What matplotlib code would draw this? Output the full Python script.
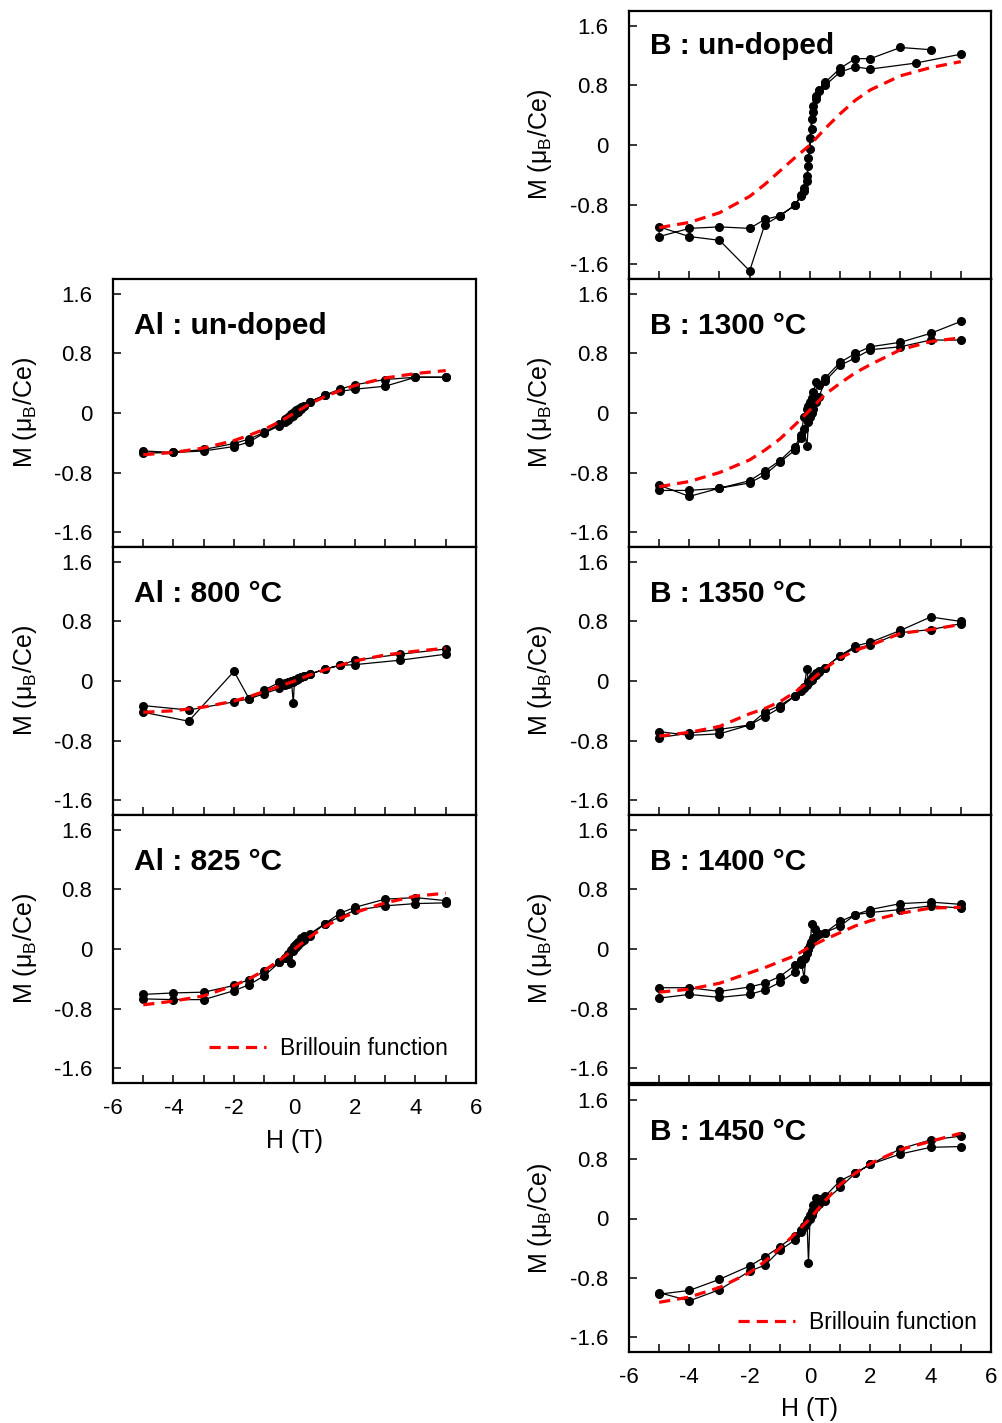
import matplotlib
matplotlib.use("Agg")
import matplotlib.pyplot as plt

plt.rcParams['font.family'] = ['Liberation Sans', 'DejaVu Sans']
plt.rcParams['mathtext.default'] = 'regular'

# field grids (T)
H_DOWN = [5, 4, 3, 2, 1.5, 1, 0.5, 0.3, 0.2, 0.1, 0.05, 0, -0.05, -0.1, -0.2, -0.3, -0.5, -1, -1.5, -2, -3, -4, -5]
H_UP = H_DOWN[::-1]
BR_H = [-5, -4, -3, -2, -1.5, -1, -0.5, 0, 0.5, 1, 1.5, 2, 3, 4, 5]

# Al : un-doped
AL0_M_DOWN = [0.48, 0.48, 0.45, 0.38, 0.32, 0.24, 0.15, 0.10, 0.08, 0.06, 0.04, 0.02, 0.0, -0.02, -0.05, -0.08, -0.15, -0.26, -0.35, -0.41, -0.49, -0.53, -0.51]
AL0_M_UP = [-0.54, -0.53, -0.51, -0.45, -0.39, -0.27, -0.17, -0.12, -0.09, -0.06, -0.04, -0.02, 0.0, 0.02, 0.05, 0.09, 0.15, 0.24, 0.29, 0.32, 0.36, 0.48, 0.48]
AL0_BR = [-0.56, -0.53, -0.47, -0.37, -0.30, -0.22, -0.12, 0.0, 0.12, 0.22, 0.30, 0.37, 0.47, 0.53, 0.57]

# Al : 800 C
AL800_H_DOWN = [5, 3.5, 2, 1.5, 1, 0.5, 0.3, 0.2, 0.1, 0.05, 0, -0.04, -0.1, -0.2, -0.3, -0.5, -1, -1.5, -2, -3.5, -5]
AL800_M_DOWN = [0.43, 0.36, 0.28, 0.21, 0.16, 0.09, 0.07, 0.05, 0.04, 0.02, 0.01, -0.30, 0.0, -0.02, -0.03, -0.02, -0.12, -0.24, -0.28, -0.39, -0.33]
AL800_H_UP = [-5, -3.5, -2, -1.5, -1, -0.5, -0.3, -0.2, -0.1, -0.05, 0, 0.05, 0.1, 0.2, 0.3, 0.5, 1, 1.5, 2, 3.5, 5]
AL800_M_UP = [-0.42, -0.54, 0.13, -0.24, -0.17, -0.10, -0.06, -0.04, -0.02, -0.01, 0.0, 0.02, 0.03, 0.05, 0.07, 0.09, 0.16, 0.21, 0.22, 0.28, 0.36]
AL800_BR = [-0.42, -0.40, -0.35, -0.27, -0.21, -0.14, -0.07, 0.0, 0.08, 0.15, 0.21, 0.27, 0.35, 0.40, 0.44]

# Al : 825 C
AL825_M_DOWN = [0.62, 0.61, 0.58, 0.52, 0.43, 0.34, 0.17, 0.12, 0.09, 0.05, 0.03, 0.0, -0.03, -0.19, -0.08, -0.12, -0.18, -0.36, -0.48, -0.56, -0.68, -0.68, -0.67]
AL825_M_UP = [-0.61, -0.59, -0.58, -0.49, -0.41, -0.30, -0.18, -0.12, -0.07, -0.02, 0.01, 0.04, 0.07, 0.10, 0.15, 0.18, 0.20, 0.34, 0.48, 0.56, 0.67, 0.69, 0.65]
AL825_BR = [-0.75, -0.70, -0.63, -0.49, -0.40, -0.29, -0.15, 0.0, 0.16, 0.30, 0.41, 0.49, 0.62, 0.71, 0.75]

# B : un-doped
B0_H_DOWN = [5, 3.5, 2, 1.5, 1, 0.5, 0.3, 0.2, 0.1, 0.05, 0, -0.05, -0.1, -0.2, -0.3, -0.5, -1, -1.5, -2, -3, -4, -5]
B0_M_DOWN = [1.22, 1.10, 1.02, 1.05, 0.98, 0.80, 0.74, 0.66, 0.52, 0.35, 0.10, -0.18, -0.42, -0.58, -0.67, -0.81, -0.95, -1.07, -1.69, -1.28, -1.23, -1.10]
B0_H_UP = [-5, -4, -3, -2, -1.5, -1, -0.5, -0.3, -0.2, -0.1, -0.05, 0, 0.05, 0.1, 0.2, 0.3, 0.5, 1, 1.5, 2, 3, 4]
B0_M_UP = [-1.23, -1.12, -1.10, -1.12, -1.00, -0.95, -0.81, -0.69, -0.62, -0.48, -0.28, -0.05, 0.22, 0.45, 0.62, 0.72, 0.84, 1.03, 1.16, 1.16, 1.31, 1.28]
B0_BR = [-1.11, -1.04, -0.91, -0.69, -0.53, -0.35, -0.17, 0.0, 0.22, 0.42, 0.60, 0.74, 0.93, 1.04, 1.12]

# B : 1300 C
B1300_M_DOWN = [0.98, 0.98, 0.89, 0.85, 0.74, 0.64, 0.43, 0.22, 0.15, 0.05, 0.0, -0.06, -0.12, -0.44, -0.22, -0.34, -0.50, -0.66, -0.83, -0.94, -1.01, -1.12, -0.97]
B1300_M_UP = [-1.04, -1.04, -1.01, -0.91, -0.78, -0.64, -0.45, -0.30, -0.05, 0.05, 0.10, 0.15, 0.20, 0.28, 0.41, 0.38, 0.47, 0.68, 0.80, 0.89, 0.95, 1.07, 1.23]
B1300_BR = [-0.99, -0.92, -0.80, -0.63, -0.50, -0.35, -0.16, 0.04, 0.25, 0.40, 0.54, 0.65, 0.85, 0.96, 1.01]

# B : 1350 C
B1350_M_DOWN = [0.77, 0.69, 0.65, 0.48, 0.44, 0.34, 0.18, 0.12, 0.08, 0.05, 0.02, 0.0, -0.03, 0.16, -0.08, -0.12, -0.20, -0.36, -0.48, -0.59, -0.71, -0.73, -0.68]
B1350_M_UP = [-0.76, -0.70, -0.65, -0.59, -0.42, -0.33, -0.20, -0.14, -0.10, -0.05, -0.02, 0.01, 0.04, 0.07, 0.11, 0.14, 0.18, 0.34, 0.47, 0.52, 0.68, 0.86, 0.80]
B1350_BR = [-0.74, -0.69, -0.61, -0.44, -0.37, -0.28, -0.15, 0.0, 0.17, 0.31, 0.41, 0.48, 0.64, 0.69, 0.76]

# B : 1400 C
B1400_H_DOWN = [5, 4, 3, 2, 1.5, 1, 0.5, 0.15, 0.05, 0.02, -0.05, -0.1, -0.2, -0.3, -0.5, -1, -1.5, -2, -3, -4, -5]
B1400_M_DOWN = [0.55, 0.58, 0.53, 0.49, 0.46, 0.31, 0.22, 0.27, 0.34, 0.10, 0.0, -0.06, -0.14, -0.20, -0.31, -0.45, -0.55, -0.61, -0.65, -0.61, -0.66]
B1400_H_UP = [-5, -4, -3, -2, -1.5, -1, -0.5, -0.3, -0.19, -0.15, -0.1, -0.05, 0, 0.05, 0.1, 0.2, 0.3, 0.5, 1, 1.5, 2, 3, 4, 5]
B1400_M_UP = [-0.52, -0.52, -0.57, -0.51, -0.46, -0.37, -0.22, -0.15, -0.40, -0.12, -0.05, 0.0, 0.05, 0.10, 0.15, 0.18, 0.20, 0.22, 0.37, 0.46, 0.53, 0.61, 0.63, 0.60]
B1400_BR = [-0.58, -0.54, -0.46, -0.32, -0.25, -0.17, -0.09, 0.03, 0.13, 0.22, 0.31, 0.38, 0.48, 0.55, 0.56]

# B : 1450 C
B1450_M_DOWN = [0.97, 0.96, 0.87, 0.73, 0.61, 0.42, 0.24, 0.20, 0.15, 0.10, 0.05, 0.0, -0.60, -0.04, -0.10, -0.16, -0.29, -0.43, -0.63, -0.71, -0.96, -1.11, -1.00]
B1450_M_UP = [-1.02, -0.97, -0.82, -0.64, -0.52, -0.38, -0.23, -0.18, -0.12, -0.05, 0.0, 0.05, 0.10, 0.18, 0.28, 0.26, 0.30, 0.51, 0.61, 0.73, 0.94, 1.06, 1.11]
B1450_BR = [-1.13, -1.06, -0.93, -0.73, -0.58, -0.40, -0.21, 0.0, 0.24, 0.46, 0.61, 0.74, 0.93, 1.04, 1.15]

XTICKS = [-6, -4, -2, 0, 2, 4, 6]
XTICK_LABELS = ['-6', '-4', '-2', '0', '2', '4', '6']
YTICKS = [-1.6, -0.8, 0, 0.8, 1.6]
YTICK_LABELS = ['-1.6', '-0.8', '0', '0.8', '1.6']

W, H = 1003, 1423


def make_axes(fig, left, top, width, height):
    # pixel box -> figure fraction
    return fig.add_axes([left / W, 1 - (top + height) / H, width / W, height / H])


def draw_panel(ax, h1, m1, h2, m2, br, title, title_y=0.795, bottom=False, legend_pos=None, label_x=-0.242):
    ax.plot(list(h1) + list(h2), list(m1) + list(m2), color='black', lw=0.9,
            marker='o', ms=5.5, mfc='black', mec='black', zorder=3)
    ax.plot(BR_H, br, color='#ff0000', lw=2.3, dashes=(3.5, 2.2), zorder=4,
            label='Brillouin function')
    ax.set_xlim(-6, 6)
    ax.set_ylim(-1.8, 1.8)
    ax.set_xticks(XTICKS)
    ax.set_xticks([-5, -3, -1, 1, 3, 5], minor=True)
    ax.set_yticks(YTICKS)
    ax.set_yticklabels(YTICK_LABELS)
    ax.tick_params(axis='both', which='both', direction='in', length=6, width=1.1)
    ax.tick_params(axis='y', labelsize=16, pad=15)
    ax.tick_params(axis='x', labelsize=16, pad=11)
    for sp in ax.spines.values():
        sp.set_linewidth(1.6)
    if bottom:
        ax.set_xticklabels(XTICK_LABELS)
        ax.set_xlabel('H (T)', fontsize=18)
        ax.xaxis.label.set_va('center')
        ax.xaxis.set_label_coords(0.5, -0.215)
    else:
        ax.set_xticklabels([])
    ax.set_ylabel('M (μ$_B$/Ce)', fontsize=18)
    ax.yaxis.label.set_va('center')
    ax.yaxis.set_label_coords(label_x, 0.5)
    ax.text(0.058, title_y, title, transform=ax.transAxes, fontsize=21.5,
            fontweight='bold', ha='left', va='baseline')
    if legend_pos is not None:
        ax.legend(loc='center right', bbox_to_anchor=legend_pos, frameon=False,
                  fontsize=16.5, handlelength=2.5, handletextpad=0.6,
                  borderpad=0, borderaxespad=0)


fig = plt.figure(figsize=(W / 100, H / 100), dpi=100)

LX, LW = 113, 363
RX, RW = 629, 362
PH = 268

ax = make_axes(fig, LX, 279, LW, PH)
draw_panel(ax, H_DOWN, AL0_M_DOWN, H_UP, AL0_M_UP, AL0_BR, 'Al : un-doped')
ax = make_axes(fig, LX, 547, LW, PH)
draw_panel(ax, AL800_H_DOWN, AL800_M_DOWN, AL800_H_UP, AL800_M_UP, AL800_BR, 'Al : 800 °C')
ax = make_axes(fig, LX, 815, LW, PH)
draw_panel(ax, H_DOWN, AL825_M_DOWN, H_UP, AL825_M_UP, AL825_BR, 'Al : 825 °C',
           bottom=True, legend_pos=(0.923, 0.127))

ax = make_axes(fig, RX, 11, RW, PH)
draw_panel(ax, B0_H_DOWN, B0_M_DOWN, B0_H_UP, B0_M_UP, B0_BR, 'B : un-doped',
           title_y=0.84, label_x=-0.246)
ax = make_axes(fig, RX, 279, RW, PH)
draw_panel(ax, H_DOWN, B1300_M_DOWN, H_UP, B1300_M_UP, B1300_BR, 'B : 1300 °C', label_x=-0.246)
ax = make_axes(fig, RX, 547, RW, PH)
draw_panel(ax, H_DOWN, B1350_M_DOWN, H_UP, B1350_M_UP, B1350_BR, 'B : 1350 °C', label_x=-0.246)
ax = make_axes(fig, RX, 815, RW, PH)
draw_panel(ax, B1400_H_DOWN, B1400_M_DOWN, B1400_H_UP, B1400_M_UP, B1400_BR, 'B : 1400 °C', label_x=-0.246)
ax = make_axes(fig, RX, 1085, RW, 267)
draw_panel(ax, H_DOWN, B1450_M_DOWN, H_UP, B1450_M_UP, B1450_BR, 'B : 1450 °C',
           bottom=True, legend_pos=(0.961, 0.112), label_x=-0.246)

fig.savefig('out.png', dpi=100)
